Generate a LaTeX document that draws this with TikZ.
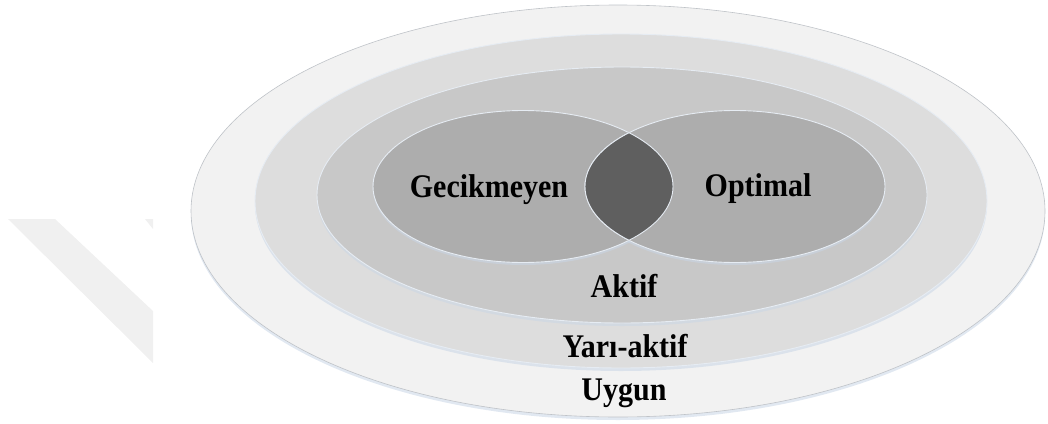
\documentclass[tikz,border=0pt]{standalone}
\usepackage{fontspec}
\setmainfont{Liberation Serif}
\definecolor{uygunc}{HTML}{F2F2F2}
\definecolor{yariaktifc}{HTML}{DDDDDD}
\definecolor{aktifc}{HTML}{C8C8C8}
\definecolor{innerc}{HTML}{ADADAD}
\definecolor{lensc}{HTML}{5F5F5F}
\definecolor{edgec}{HTML}{BFC3C8}
\definecolor{glowc}{HTML}{E6ECF3}
\definecolor{shadowc}{HTML}{C9D6E6}
\definecolor{markc}{HTML}{F0F0F0}
\begin{document}
\begin{tikzpicture}[x=1pt,y=-1pt,
  shadowfill/.style={fill=shadowc,opacity=0.55},
  ringedge/.style={draw=glowc,line width=0.9pt},
  label/.style={font=\fontsize{30}{30}\selectfont\bfseries,text=black,anchor=base,inner sep=0pt}]
\useasboundingbox (0,0) rectangle (1048,423);

% faint mark on the left
\fill[markc] (8,219) -- (55,219) -- (153,311) -- (153,363) -- cycle;
\fill[markc] (145,219) -- (153,219) -- (153,229) -- cycle;

% Uygun (outermost set)
\fill[shadowfill] (618,214) ellipse [x radius=427pt, y radius=206pt];
\fill[uygunc,draw=edgec,line width=0.6pt] (618,211) ellipse [x radius=427pt, y radius=206pt];

% Yari-aktif
\fill[shadowfill] (621,204) ellipse [x radius=366pt, y radius=167pt];
\filldraw[fill=yariaktifc,ringedge] (621,201) ellipse [x radius=366pt, y radius=167pt];

% Aktif
\fill[shadowfill] (622,198) ellipse [x radius=305pt, y radius=128pt];
\filldraw[fill=aktifc,ringedge] (622,195) ellipse [x radius=305pt, y radius=128pt];

% Gecikmeyen and Optimal
\fill[shadowfill] (523,189) ellipse [x radius=150pt, y radius=76pt];
\fill[shadowfill] (735,189) ellipse [x radius=150pt, y radius=76pt];
\filldraw[fill=innerc,ringedge] (523,186.5) ellipse [x radius=150pt, y radius=76pt];
\filldraw[fill=innerc,ringedge] (735,186.5) ellipse [x radius=150pt, y radius=76pt];

% overlap of the two inner sets
\begin{scope}
  \clip (523,186.5) ellipse [x radius=150pt, y radius=76pt];
  \filldraw[fill=lensc,ringedge] (735,186.5) ellipse [x radius=150pt, y radius=76pt];
\end{scope}
\begin{scope}
  \clip (735,186.5) ellipse [x radius=150pt, y radius=76pt];
  \draw[ringedge] (523,186.5) ellipse [x radius=150pt, y radius=76pt];
\end{scope}

% set names
\node[label] (gecikmeyen) at (489,197) {\scalebox{1}[1.1]{Gecikmeyen}};
\node[label] (optimal) at (758,196) {\scalebox{1}[1.1]{Optimal}};
\node[label] (aktif) at (624,297) {\scalebox{1}[1.1]{Aktif}};
\node[label] (yariaktif) at (625,357) {\scalebox{1}[1.1]{Yarı-aktif}};
\node[label] (uygun) at (624,400) {\scalebox{1}[1.1]{Uygun}};
\end{tikzpicture}
\end{document}
